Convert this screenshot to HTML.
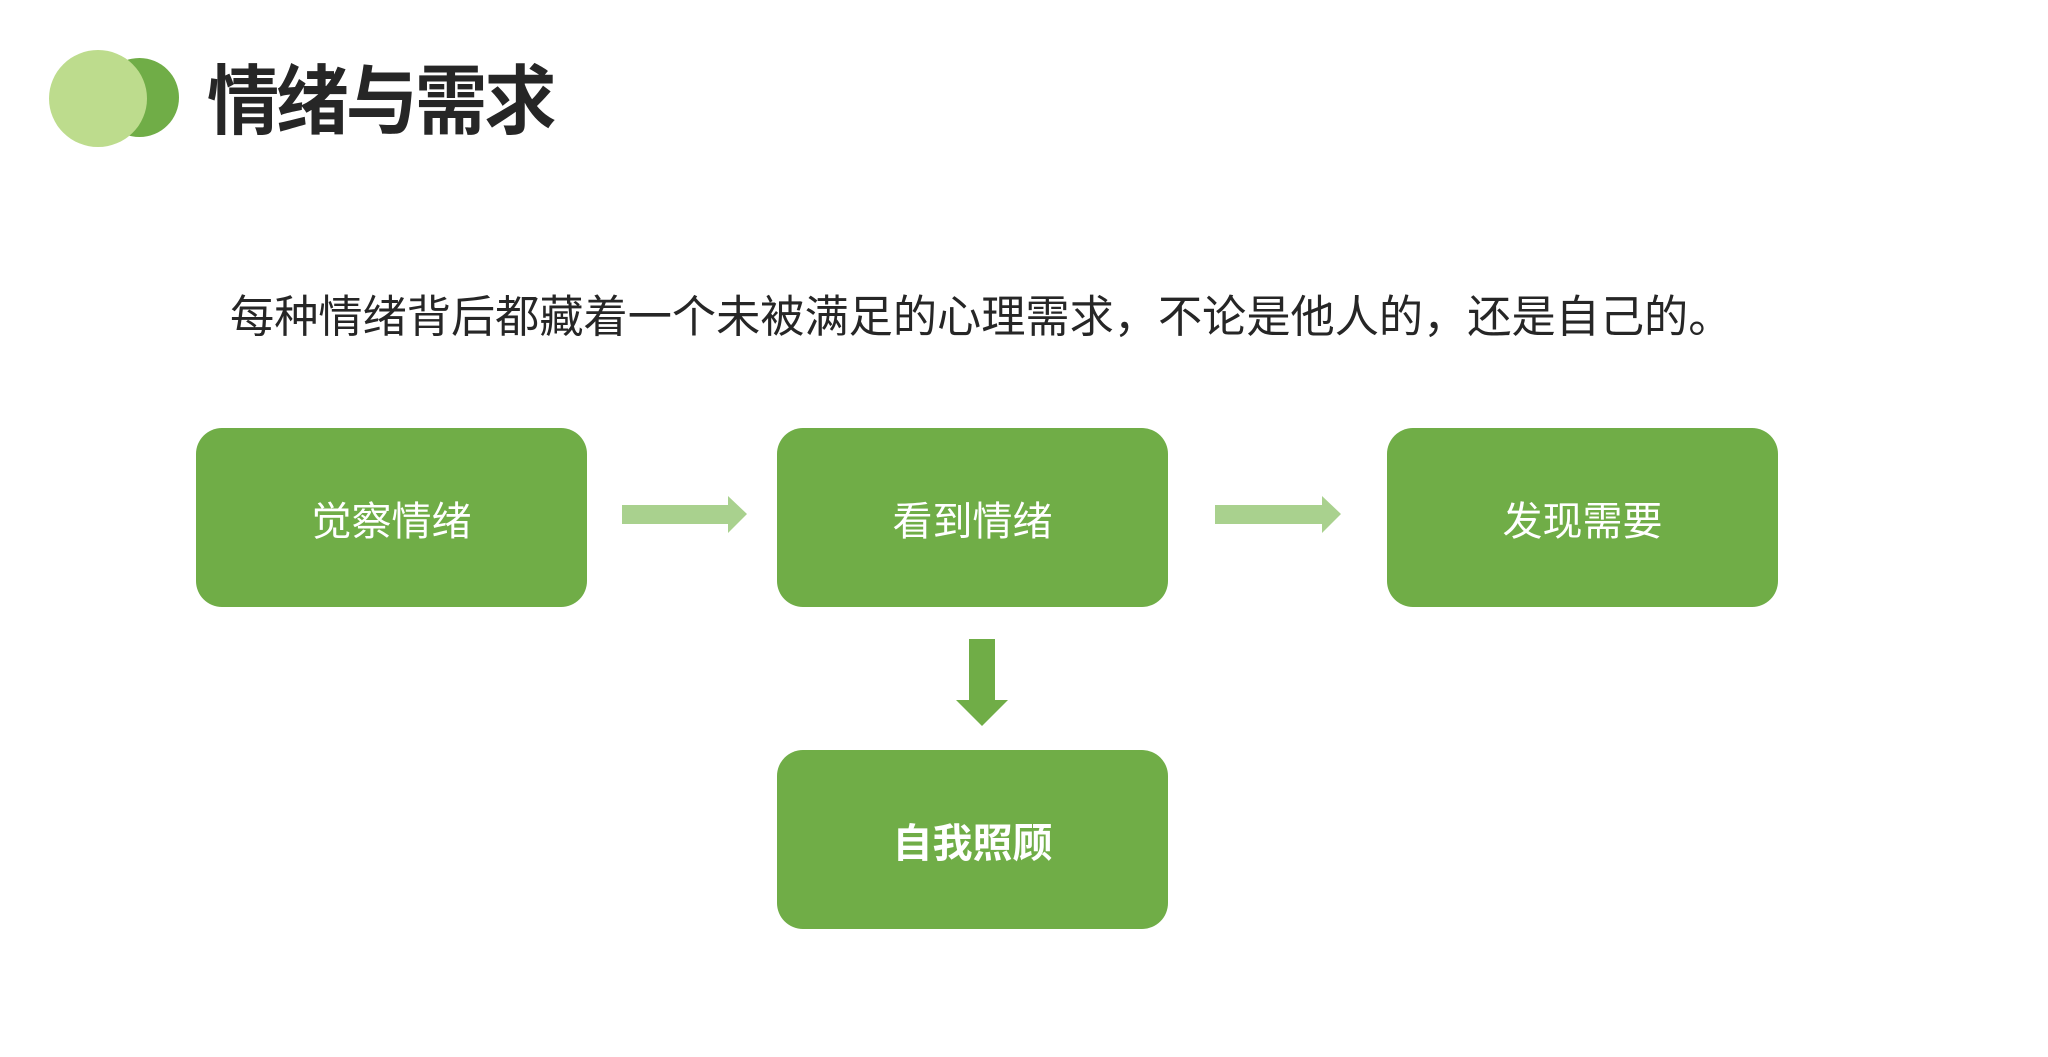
<!DOCTYPE html>
<html><head><meta charset="utf-8"><style>
html,body{margin:0;padding:0;background:#fff;}
body{width:2048px;height:1057px;position:relative;overflow:hidden;font-family:"Liberation Sans","Noto Sans CJK SC",sans-serif;}
.box{position:absolute;background:#70AD47;border-radius:26px;color:#fff;font-size:40px;display:flex;align-items:center;justify-content:center;width:391px;height:179px;}
.c{position:absolute;border-radius:50%;}
</style></head><body>
<div class="c" style="left:100px;top:58px;width:79px;height:79px;background:#70AD47;"></div>
<div class="c" style="left:49px;top:50px;width:98px;height:97px;background:#BDDC8D;"></div>
<div style="position:absolute;left:207px;top:53px;font-size:76px;font-weight:bold;color:#262626;line-height:100px;letter-spacing:-3px;transform:scaleX(0.95);transform-origin:0 0;white-space:nowrap;">情绪与需求</div>
<div style="position:absolute;left:230px;top:290px;font-size:44.2px;color:#262626;line-height:56px;white-space:nowrap;">每种情绪背后都藏着一个未被满足的心理需求，不论是他人的，还是自己的。</div>
<div class="box" style="left:196px;top:428px;">觉察情绪</div>
<div class="box" style="left:777px;top:428px;">看到情绪</div>
<div class="box" style="left:1387px;top:428px;">发现需要</div>
<div class="box" style="left:777px;top:750px;font-weight:bold;">自我照顾</div>
<svg style="position:absolute;left:0;top:0" width="2048" height="1057">
<polygon points="622,505 728,505 728,496 747,514 728,533 728,524 622,524" fill="#A9D18E"/>
<polygon points="1215,505 1322,505 1322,496 1341,514 1322,533 1322,524 1215,524" fill="#A9D18E"/>
<polygon points="969,639 995,639 995,700 1008,700 982,726 956,700 969,700" fill="#70AD47"/>
</svg>
</body></html>
